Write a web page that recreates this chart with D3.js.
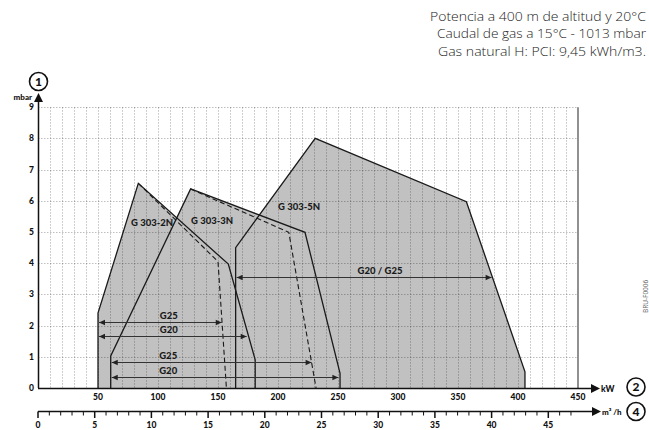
<!DOCTYPE html>
<html><head><meta charset="utf-8">
<script src="https://cdn.jsdelivr.net/npm/d3@7"></script>
<style>html,body{margin:0;padding:0;background:#fff;}svg{display:block;}</style>
</head><body>
<svg id="c" width="649" height="430"></svg>
<script>
// ---- data ----
const kwTicks = [50,100,150,200,250,300,350,400,450];
const m3Ticks = [0,5,10,15,20,25,30,35,40,45];
const mbarTicks = [0,1,2,3,4,5,6,7,8,9];
const noteLines = ["Potencia a 400 m de altitud y 20°C","Caudal de gas a 15°C - 1013 mbar","Gas natural H: PCI: 9,45 kWh/m3."];
const noteWidths = [216,209,208];
const models = ["G 303-2N","G 303-3N","G 303-5N"];
// outlines [kW, mbar]
const outline2N = [[50,0],[50,2.4],[83.6,6.56],[158.6,3.97],[181,0.9],[181,0]];
const outline3N = [[60.6,0],[60.6,1.03],[127.2,6.38],[222.5,4.99],[251.7,0.47],[251.7,0]];
const outline5N = [[164.7,0],[164.7,4.5],[231,8],[357,5.97],[405.8,0.52],[405.8,0]];
const dashed2N = [[83.6,6.56],[150,4.05],[157,0]];
const dashed3N = [[127.2,6.38],[209,4.99],[231.7,0]];
const labelPos = [[77.5,5.18],[127.5,5.27],[200,5.69]];
// range arrows: mbar level, kW from, kW to, label
const arrowY = [2.12,1.67,0.84,0.36,3.57];
const arrowFrom = [50,50,60.6,60.6,164.7];
const arrowTo = [153.1,173.9,228,250.3,378];
const arrowLabel = ["G25","G20","G25","G20","G20 / G25"];
const arrowLabelX = [109,109,108.5,108.5,285];

const svg = d3.select("#c");
const x = d3.scaleLinear().domain([0,450]).range([38,578]);
const y = d3.scaleLinear().domain([0,9]).range([388,107.2]);
const m3 = d3.scaleLinear().domain([0,45]).range([38,38+45*9.45*1.2]);
const line = d3.line().x(d=>x(d[0])).y(d=>y(d[1]));
const bold = "Lato, 'Open Sans', sans-serif";

// fills
const outlines = [outline2N,outline3N,outline5N];
svg.append("g").selectAll("path").data(outlines).join("path")
  .attr("d", d=>line(d)+"Z").attr("fill","#c1c1c1").attr("stroke","none");

// grid
const grid = svg.append("g").attr("stroke","rgba(0,0,0,0.25)").attr("stroke-width",1).attr("stroke-dasharray","1.5,1.5");
grid.selectAll("line.v").data(d3.range(10,450,10)).join("line")
  .attr("x1",d=>Math.round(x(d))+0.5).attr("x2",d=>Math.round(x(d))+0.5).attr("y1",y(9)).attr("y2",y(0));
grid.selectAll("line.h").data(mbarTicks.slice(1)).join("line")
  .attr("x1",x(0)).attr("x2",x(450)).attr("y1",d=>Math.round(y(d))+0.5).attr("y2",d=>Math.round(y(d))+0.5);
// right border
svg.append("line").attr("x1",x(450)).attr("x2",x(450)).attr("y1",y(9)).attr("y2",y(0)).attr("stroke","#555").attr("stroke-width",1.3);

// outlines
svg.append("g").selectAll("path").data(outlines).join("path")
  .attr("d", d=>line(d)).attr("fill","none").attr("stroke","#1a1a1a").attr("stroke-width",1.3).attr("stroke-linejoin","miter");
svg.append("g").selectAll("path").data([dashed2N,dashed3N]).join("path")
  .attr("d", d=>line(d)).attr("fill","none").attr("stroke","#1a1a1a").attr("stroke-width",1.1).attr("stroke-dasharray","5,3");

// model labels
svg.append("g").selectAll("text").data(models).join("text")
  .attr("x",(d,i)=>x(labelPos[i][0])).attr("y",(d,i)=>y(labelPos[i][1]))
  .attr("font-family",bold).attr("font-weight","900").attr("font-size",9.5).attr("fill","#1a1a1a")
  .text(d=>d);

// range arrows
const ag = svg.append("g");
arrowY.forEach((lv,i)=>{
  const yy = Math.round(y(lv))+0.5, x0 = x(arrowFrom[i])+1, x1 = x(arrowTo[i]);
  ag.append("line").attr("x1",x0).attr("x2",x1).attr("y1",yy).attr("y2",yy).attr("stroke","#333").attr("stroke-width",1);
  ag.append("path").attr("d",`M${x0},${yy}l6,-2.8l0,5.6Z`).attr("fill","#222");
  ag.append("path").attr("d",`M${x1},${yy}l-6,-2.8l0,5.6Z`).attr("fill","#222");
  ag.append("text").attr("x",x(arrowLabelX[i])).attr("y",yy-4).attr("text-anchor","middle")
    .attr("font-family",bold).attr("font-weight","900").attr("font-size",9.5).attr("fill","#1a1a1a").text(arrowLabel[i]);
});

// y axis
svg.append("line").attr("x1",38.5).attr("x2",38.5).attr("y1",y(0)).attr("y2",101).attr("stroke","#111").attr("stroke-width",1.5);
svg.append("path").attr("d","M38.5,93 L43,102 L34,102 Z").attr("fill","#111");
svg.append("g").selectAll("text").data(mbarTicks).join("text")
  .attr("x",34).attr("y",d=>y(d)+3).attr("text-anchor","end")
  .attr("font-family",bold).attr("font-weight","900").attr("font-size",8.5).attr("fill","#111").text(d=>d);
svg.append("text").attr("x",32).attr("y",99.5).attr("text-anchor","end")
  .attr("font-family",bold).attr("font-weight","900").attr("font-size",8).attr("fill","#111").text("mbar");

// kW axis
svg.append("line").attr("x1",38).attr("x2",593).attr("y1",388.5).attr("y2",388.5).attr("stroke","#111").attr("stroke-width",1.5);
svg.append("path").attr("d","M600,388.5 L591,384 L591,393 Z").attr("fill","#111");
svg.append("g").selectAll("text").data(kwTicks).join("text")
  .attr("x",d=>x(d)).attr("y",399.5).attr("text-anchor","middle")
  .attr("font-family",bold).attr("font-weight","900").attr("font-size",8.5).attr("fill","#111").text(d=>d);
svg.append("text").attr("x",601).attr("y",391.5).attr("font-family",bold).attr("font-weight","900").attr("font-size",8.5).attr("fill","#111").text("kW");

// m3/h axis
const ay = 411.5;
svg.append("line").attr("x1",38).attr("x2",594).attr("y1",ay).attr("y2",ay).attr("stroke","#111").attr("stroke-width",1.3);
svg.append("path").attr("d",`M601,${ay} L592,${ay-4.5} L592,${ay+4.5} Z`).attr("fill","#111");
svg.append("g").selectAll("line").data(d3.range(0,48)).join("line")
  .attr("x1",d=>m3(d)).attr("x2",d=>m3(d)).attr("y1",ay).attr("y2",d=>d%5===0?ay+6.5:ay+4)
  .attr("stroke","#111").attr("stroke-width",d=>d%5===0?1.5:1);
svg.append("g").selectAll("text").data(m3Ticks).join("text")
  .attr("x",d=>m3(d)).attr("y",428).attr("text-anchor","middle")
  .attr("font-family",bold).attr("font-weight","900").attr("font-size",8.5).attr("fill","#111").text(d=>d);
svg.append("text").attr("x",602).attr("y",414.5).attr("font-family",bold).attr("font-weight","900").attr("font-size",8).attr("fill","#111")
  .text("m³ /h");

// circled numbers
const circles = [[38.5,81.5,"1"],[636,387,"2"],[636,411.5,"4"]];
const cg = svg.append("g");
circles.forEach(c=>{
  cg.append("circle").attr("cx",c[0]).attr("cy",c[1]).attr("r",9).attr("fill","#fff").attr("stroke","#111").attr("stroke-width",1.6);
  cg.append("text").attr("x",c[0]).attr("y",c[1]+4.3).attr("text-anchor","middle")
    .attr("font-family",bold).attr("font-weight","900").attr("font-size",12).attr("fill","#111").text(c[2]);
});

// notes
svg.append("g").selectAll("text").data(noteLines).join("text")
  .attr("x",646).attr("y",(d,i)=>20.5+i*17.5).attr("text-anchor","end")
  .attr("textLength",(d,i)=>noteWidths[i]).attr("lengthAdjust","spacingAndGlyphs")
  .attr("font-family","'Open Sans', sans-serif").attr("font-weight",300).attr("font-size",13.5).attr("fill","#222").text(d=>d);

// code
svg.append("text").attr("transform","translate(647.5,313) rotate(-90)")
  .attr("font-family","'Open Sans', sans-serif").attr("font-size",6.5).attr("fill","#666").text("BRU-F0006");
</script>
</body></html>
